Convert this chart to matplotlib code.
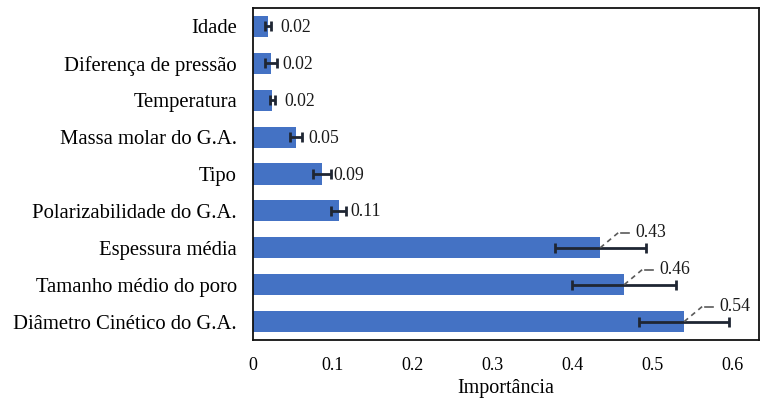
import matplotlib
matplotlib.use("Agg")
import matplotlib.pyplot as plt
from matplotlib.ticker import FixedLocator, FuncFormatter
from matplotlib.transforms import offset_copy

# Feature importance data (top to bottom)
features = [
    "Idade",
    "Diferença de pressão",
    "Temperatura",
    "Massa molar do G.A.",
    "Tipo",
    "Polarizabilidade do G.A.",
    "Espessura média",
    "Tamanho médio do poro",
    "Diâmetro Cinético do G.A.",
]
importance = [0.019, 0.022, 0.024, 0.054, 0.086, 0.107, 0.434, 0.464, 0.539]
errors = [0.004, 0.0075, 0.003, 0.0075, 0.0115, 0.009, 0.057, 0.065, 0.056]
labels = ["0.02", "0.02", "0.02", "0.05", "0.09", "0.11", "0.43", "0.46", "0.54"]
xticks = [0, 0.1, 0.2, 0.3, 0.4, 0.5, 0.6]

plt.rcParams["font.family"] = ["Liberation Serif", "DejaVu Serif"]

fig = plt.figure(figsize=(7.61, 4.03), dpi=100)
ax = fig.add_axes([253 / 761, 1 - 340 / 403, (759 - 253) / 761, (340 - 8) / 403])

ypos = list(range(len(features)))
ax.set_xlim(0, (759 - 253) / 800)
ax.set_ylim(len(features) - 0.5, -0.5)

ax.barh(ypos, importance, height=0.57, color="#4472C4", zorder=2)
ax.errorbar(importance, ypos, xerr=errors, fmt="none", ecolor="#1f2633",
            elinewidth=2.0, capsize=3.8, capthick=2.0, zorder=3)


def shifted(dx, dy):
    """Data transform shifted by (dx, dy) screen pixels."""
    return offset_copy(ax.transData, fig=fig, x=dx, y=dy, units="dots")


def offset_point(v, y, dx, dy):
    """Data coordinates of the point (dx, dy) pixels away from (v, y)."""
    return ax.transData.inverted().transform(
        ax.transData.transform((v, y)) + [dx, dy])


for y, v, lab in zip(ypos, importance, labels):
    if v < 0.2:
        ax.text(v, y, lab, transform=shifted(12, -1), ha="left", va="center",
                fontsize=12.8, color="#1a1a1a")
    else:
        # leader line: dashed diagonal, then a short horizontal stroke
        diag = offset_point(v, y, 18, 15)
        h0 = offset_point(v, y, 21, 15)
        h1 = offset_point(v, y, 29, 15)
        ax.plot([v, diag[0]], [y, diag[1]], color="#5a5a5a", lw=1.2,
                linestyle=(0, (3, 2.5)), zorder=4, clip_on=False)
        ax.plot([h0[0], h1[0]], [h0[1], h1[1]], color="#5a5a5a", lw=1.2,
                zorder=4, clip_on=False)
        ax.text(v, y, lab, transform=shifted(35, 15), ha="left", va="center",
                fontsize=12.8, color="#1a1a1a")

ax.set_yticks(ypos)
ax.set_yticklabels(features, fontsize=14.9)
ax.xaxis.set_major_locator(FixedLocator(xticks))
ax.xaxis.set_major_formatter(FuncFormatter(lambda x, p: "0" if x == 0 else f"{x:.1f}"))
ax.tick_params(axis="x", length=0, pad=12, labelsize=13)
ax.tick_params(axis="y", length=0, pad=11.5)
ax.set_xlabel("Importância", fontsize=14.5, labelpad=4)

for s in ax.spines.values():
    s.set_color("#111111")
    s.set_linewidth(1.3)

fig.savefig("out.png", dpi=100, facecolor="white")
